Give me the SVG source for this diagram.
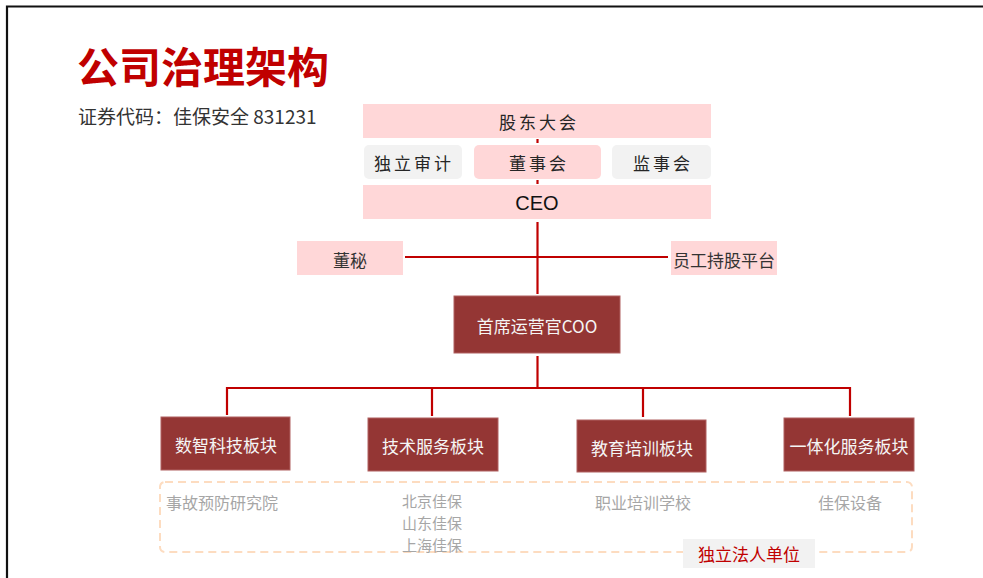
<svg xmlns="http://www.w3.org/2000/svg" width="983" height="578" viewBox="0 0 983 578">
<style>
.cjk{font-family:"Noto Sans CJK SC","Liberation Sans",sans-serif}
.top{font-size:17px;fill:#262626;letter-spacing:3px;text-anchor:middle;dominant-baseline:central}
.pink{fill:#FFD7D8}
.grey{fill:#F2F2F2}
.dark{fill:#943634;stroke:#B06060;stroke-width:1}
.wt{font-size:17px;fill:#F5F5F5;text-anchor:middle;dominant-baseline:central}
.gt{font-size:16px;fill:#A6A6A6;dominant-baseline:central}
.ln{stroke:#C00000;stroke-width:2.2;fill:none}
</style>
<rect width="983" height="578" fill="#FFFFFF"/>
<path d="M7,578 V6.5 H983" fill="none" stroke="#111" stroke-width="2.2"/>
<text x="77" y="83" class="cjk" font-size="42" font-weight="bold" fill="#C00000">公司治理架构</text>
<text x="78" y="124" class="cjk" font-size="19" fill="#333333">证券代码：佳保安全 831231</text>

<g id="connectors">
<line class="ln" x1="537.5" y1="139" x2="537.5" y2="143" stroke-width="2"/>
<line class="ln" x1="537.5" y1="180" x2="537.5" y2="184" stroke-width="2"/>
<line class="ln" x1="537.5" y1="222" x2="537.5" y2="294"/>
<line class="ln" x1="405" y1="257" x2="668" y2="257"/>
<line class="ln" x1="537.5" y1="356" x2="537.5" y2="388"/>
<path class="ln" d="M227,415 V388 H850 V416"/>
<line class="ln" x1="432" y1="388" x2="432" y2="416"/>
<line class="ln" x1="643" y1="388" x2="643" y2="417"/>
</g>

<g id="gudong">
<rect class="pink" x="363" y="104" width="348" height="34"/>
<text class="cjk top" x="539" y="121">股东大会</text>
</g>
<g id="shenji">
<rect class="grey" x="364" y="145" width="98" height="34" rx="5"/>
<text class="cjk top" x="414" y="162">独立审计</text>
</g>
<g id="dongshihui">
<rect class="pink" x="474" y="145" width="127" height="34" rx="5"/>
<text class="cjk top" x="539" y="162">董事会</text>
</g>
<g id="jianshihui">
<rect class="grey" x="612" y="145" width="99" height="34" rx="5"/>
<text class="cjk top" x="663" y="162">监事会</text>
</g>
<g id="ceo">
<rect class="pink" x="363" y="185" width="348" height="34"/>
<text x="537" y="203" font-family="Liberation Sans,sans-serif" font-size="20" fill="#111" text-anchor="middle" dominant-baseline="central">CEO</text>
</g>
<g id="dongmi">
<rect class="pink" x="297" y="241" width="106" height="34"/>
<text class="cjk" x="350" y="259" font-size="17" fill="#333" text-anchor="middle" dominant-baseline="central">董秘</text>
</g>
<g id="yuangong">
<rect class="pink" x="671" y="241" width="106" height="34"/>
<text class="cjk" x="724" y="259" font-size="17" fill="#333" text-anchor="middle" dominant-baseline="central">员工持股平台</text>
</g>
<g id="coo">
<rect class="dark" x="454" y="296" width="166" height="57"/>
<text class="cjk wt" x="537" y="325">首席运营官COO</text>
</g>
<g id="b1">
<rect class="dark" x="161" y="417" width="129" height="53"/>
<text class="cjk wt" x="226" y="444">数智科技板块</text>
</g>
<g id="b2">
<rect class="dark" x="368" y="418" width="130" height="53"/>
<text class="cjk wt" x="433" y="445">技术服务板块</text>
</g>
<g id="b3">
<rect class="dark" x="577" y="420" width="129" height="52"/>
<text class="cjk wt" x="642" y="447">教育培训板块</text>
</g>
<g id="b4">
<rect class="dark" x="784" y="418" width="130" height="53"/>
<text class="cjk wt" x="849" y="445">一体化服务板块</text>
</g>

<g id="legal">
<rect x="160" y="482" width="752" height="70" rx="5" fill="none" stroke="#FDDCC0" stroke-width="2" stroke-dasharray="8,5"/>
<text class="cjk gt" x="166" y="502">事故预防研究院</text>
<text class="cjk" font-size="15" fill="#A6A6A6" text-anchor="middle" x="432" y="506.5"><tspan x="432" y="506.5">北京佳保</tspan><tspan x="432" y="528.5">山东佳保</tspan><tspan x="432" y="550.5">上海佳保</tspan></text>
<text class="cjk gt" x="643" y="502" text-anchor="middle">职业培训学校</text>
<text class="cjk gt" x="850" y="502" text-anchor="middle">佳保设备</text>
<rect x="683" y="539" width="132" height="29" fill="#F2F2F2"/>
<text class="cjk" x="749" y="553" font-size="17" fill="#C00000" text-anchor="middle" dominant-baseline="central">独立法人单位</text>
</g>
</svg>
